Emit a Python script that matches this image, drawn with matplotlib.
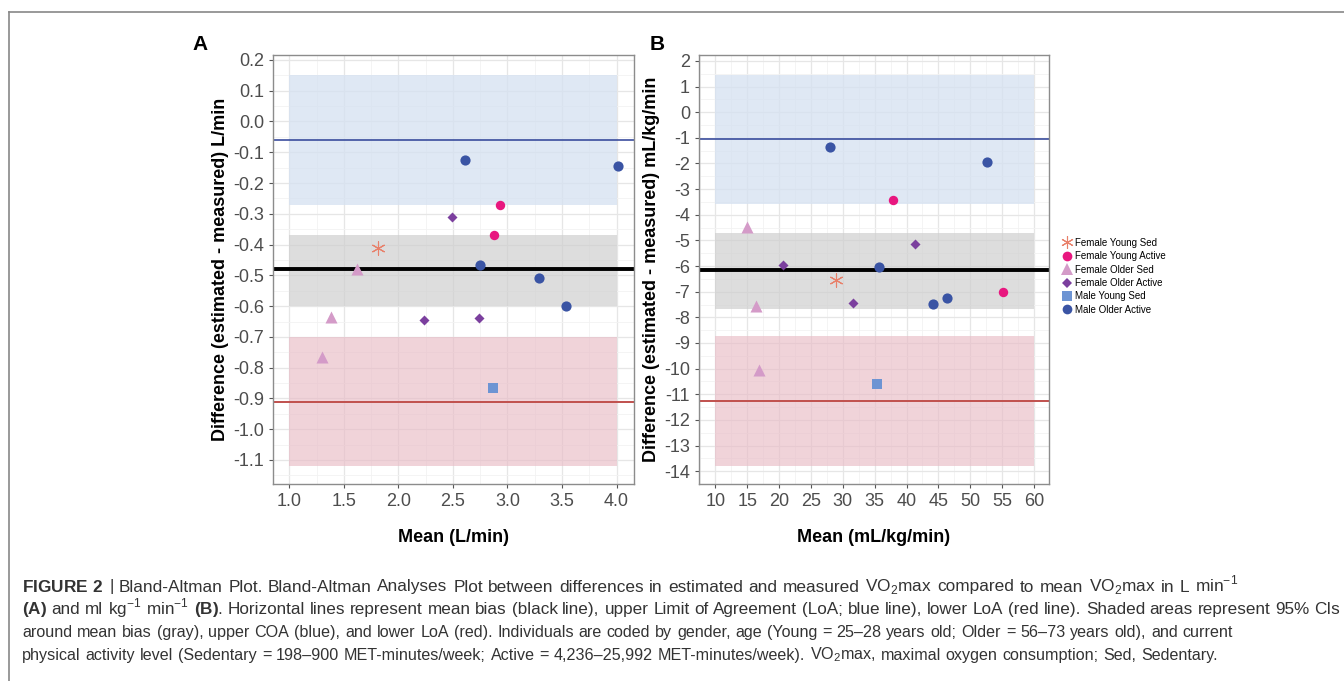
import numpy as np
import matplotlib
matplotlib.use("Agg")
import matplotlib.pyplot as plt
from matplotlib.lines import Line2D
from matplotlib.ticker import MultipleLocator

plt.rcParams['font.family'] = ['Liberation Sans', 'DejaVu Sans']
plt.rcParams['axes.unicode_minus'] = False
plt.rcParams['mathtext.fontset'] = 'custom'
plt.rcParams['mathtext.rm'] = 'Liberation Sans'
plt.rcParams['mathtext.bf'] = 'Liberation Sans:bold'

# groups
groups = ['Female Young Sed', 'Female Young Active', 'Female Older Sed',
          'Female Older Active', 'Male Young Sed', 'Male Older Active']

# panel A (L/min)
a_mean = {
    'Female Young Sed': [1.81],
    'Female Young Active': [2.93, 2.88],
    'Female Older Sed': [1.62, 1.38, 1.30],
    'Female Older Active': [2.49, 2.23, 2.74],
    'Male Young Sed': [2.87],
    'Male Older Active': [2.61, 4.01, 2.75, 3.29, 3.54],
}
a_diff = {
    'Female Young Sed': [-0.41],
    'Female Young Active': [-0.27, -0.37],
    'Female Older Sed': [-0.48, -0.635, -0.765],
    'Female Older Active': [-0.312, -0.646, -0.64],
    'Male Young Sed': [-0.866],
    'Male Older Active': [-0.126, -0.146, -0.466, -0.51, -0.60],
}
a_bias, a_upper, a_lower = -0.48, -0.06, -0.91
a_bias_ci = (-0.60, -0.37)
a_upper_ci = (-0.27, 0.15)
a_lower_ci = (-1.12, -0.70)

# panel B (mL/kg/min)
b_mean = {
    'Female Young Sed': [29.0],
    'Female Young Active': [37.8, 55.2],
    'Female Older Sed': [15.0, 16.3, 16.9],
    'Female Older Active': [20.6, 41.4, 31.6],
    'Male Young Sed': [35.4],
    'Male Older Active': [28.0, 52.6, 35.7, 44.2, 46.3],
}
b_diff = {
    'Female Young Sed': [-6.54],
    'Female Young Active': [-3.43, -7.0],
    'Female Older Sed': [-4.47, -7.54, -10.05],
    'Female Older Active': [-5.97, -5.14, -7.43],
    'Male Young Sed': [-10.6],
    'Male Older Active': [-1.37, -1.94, -6.05, -7.48, -7.24],
}
b_bias, b_upper, b_lower = -6.15, -1.06, -11.25
b_bias_ci = (-7.69, -4.71)
b_upper_ci = (-3.58, 1.45)
b_lower_ci = (-13.79, -8.73)

styles = {
    'Female Young Sed': dict(marker=(6, 2, 0), color='#E8806A', s=90, lw=0.8),
    'Female Young Active': dict(marker='o', color='#E8177F', s=46),
    'Female Older Sed': dict(marker='^', color='#D49BC8', s=75),
    'Female Older Active': dict(marker='D', color='#7B3F9E', s=26),
    'Male Young Sed': dict(marker='s', color='#6D94D3', s=44),
    'Male Older Active': dict(marker='o', color='#3A54A4', s=54),
}

fig = plt.figure(figsize=(13.44, 6.81), dpi=100)


def panel(ax, means, diffs, bias, upper, lower, bias_ci, upper_ci, lower_ci,
          xr, xlim, ylim, xmaj, ymaj, xlabel, ylabel, fmt):
    ax.set_xlim(*xlim)
    ax.set_ylim(*ylim)
    ax.xaxis.set_major_locator(MultipleLocator(xmaj))
    ax.xaxis.set_minor_locator(MultipleLocator(xmaj / 2))
    ax.yaxis.set_major_locator(MultipleLocator(ymaj))
    ax.yaxis.set_minor_locator(MultipleLocator(ymaj / 2))
    ax.grid(which='major', color='#E6E6E6', lw=0.9, zorder=0)
    ax.grid(which='minor', color='#F2F2F2', lw=0.6, zorder=0)
    ax.set_axisbelow(True)
    ax.fill_between(xr, *upper_ci, color='#D5E1F1', alpha=0.75, lw=0, zorder=1)
    ax.fill_between(xr, *bias_ci, color='#CFCFCF', alpha=0.7, lw=0, zorder=1)
    ax.fill_between(xr, *lower_ci, color='#E9BCC6', alpha=0.65, lw=0, zorder=1)
    ax.axhline(upper, color='#2B3F96', lw=1.1, zorder=2)
    ax.axhline(bias, color='black', lw=2.8, zorder=2)
    ax.axhline(lower, color='#C0504D', lw=1.4, zorder=2)
    for g in groups:
        st = styles[g]
        ax.scatter(means[g], diffs[g], marker=st['marker'], s=st['s'],
                   color=st['color'], linewidths=st.get('lw', 0), zorder=3)
    ax.yaxis.set_major_formatter(plt.FuncFormatter(fmt))
    ax.tick_params(which='major', labelsize=13, labelcolor='#4D4D4D',
                   color='#555555', length=3, width=0.8)
    ax.tick_params(which='minor', length=0)
    for sp in ax.spines.values():
        sp.set_color('#8C8C8C')
        sp.set_linewidth(1.0)
    ax.set_xlabel(xlabel, fontsize=13, fontweight='bold', labelpad=14)
    ax.set_ylabel(ylabel, fontsize=13, fontweight='bold', labelpad=3)


axA = fig.add_axes([273 / 1344, 1 - 484 / 681, 361 / 1344, 429 / 681])
panel(axA, a_mean, a_diff, a_bias, a_upper, a_lower, a_bias_ci, a_upper_ci,
      a_lower_ci, [1.0, 4.0], (0.85, 4.16), (-1.178, 0.216), 0.5, 0.1,
      'Mean (L/min)', 'Difference (estimated - measured) L/min',
      lambda v, p: f'{v:.1f}'.replace('-0.0', '0.0'))
axA.xaxis.set_major_formatter(plt.FuncFormatter(lambda v, p: f'{v:.1f}'))

axB = fig.add_axes([699 / 1344, 1 - 484 / 681, 350 / 1344, 429 / 681])
panel(axB, b_mean, b_diff, b_bias, b_upper, b_lower, b_bias_ci, b_upper_ci,
      b_lower_ci, [10, 60], (7.42, 62.36), (-14.5, 2.23), 5, 1,
      'Mean (mL/kg/min)', 'Difference (estimated - measured) mL/kg/min',
      lambda v, p: f'{v:.0f}')

fig.text(200 / 1344, 1 - 45 / 681, 'A', fontsize=15, fontweight='bold',
         ha='center', va='center')
fig.text(657 / 1344, 1 - 45 / 681, 'B', fontsize=15, fontweight='bold',
         ha='center', va='center')

handles = []
for g in groups:
    st = styles[g]
    ms = {'o': 7, '^': 8, 'D': 5, 's': 7}.get(st['marker'], 9)
    handles.append(Line2D([], [], ls='none', marker=st['marker'], ms=ms,
                          color=st['color'], mew=st.get('lw', 0), label=g))
fig.legend(handles=handles, loc='upper left',
           bbox_to_anchor=(1057 / 1344, 1 - 234 / 681), frameon=False,
           fontsize=7, handletextpad=0.3, labelspacing=0.35,
           borderaxespad=0, handlelength=1.2)

# figure frame
fig.add_artist(Line2D([9 / 1344, 1], [1 - 11.5 / 681] * 2, color='#888888', lw=1.2))
fig.add_artist(Line2D([9 / 1344] * 2, [0, 1 - 11.5 / 681], color='#888888', lw=1.2))

caption = [
    r'$\mathbf{FIGURE\ 2}$ | Bland-Altman Plot. Bland-Altman Analyses Plot between differences in estimated and measured VO$_2$max compared to mean VO$_2$max in L min$^{-1}$',
    r'$\mathbf{(A)}$ and ml kg$^{-1}$ min$^{-1}$ $\mathbf{(B)}$. Horizontal lines represent mean bias (black line), upper Limit of Agreement (LoA; blue line), lower LoA (red line). Shaded areas represent 95% CIs',
    'around mean bias (gray), upper COA (blue), and lower LoA (red). Individuals are coded by gender, age (Young = 25\u201328 years old; Older = 56\u201373 years old), and current',
    'physical activity level (Sedentary = 198\u2013900 MET-minutes/week; Active = 4,236\u201325,992 MET-minutes/week). VO$_2$max, maximal oxygen consumption; Sed, Sedentary.',
]
caption_sizes = [12.4, 12.3, 11.6, 11.6]
caption_right = [1238, 1340, 1233, 1218]

# lay out each caption line word by word so it spans the same width as the original
renderer = fig.canvas.get_renderer()
x0 = 22
for i, line in enumerate(caption):
    y = 1 - (591.5 + 22.7 * i) / 681
    words = line.replace(r'\ ', '~').split(' ')
    words = [w.replace('~', r'\ ') for w in words]
    texts, widths = [], []
    for w in words:
        t = fig.text(0, y, w, fontsize=caption_sizes[i], color='#333333',
                     ha='left', va='baseline')
        widths.append(t.get_window_extent(renderer).width)
        texts.append(t)
    gap = (caption_right[i] - x0 - sum(widths)) / (len(words) - 1)
    x = x0
    for t, wd in zip(texts, widths):
        t.set_x(x / 1344)
        x += wd + gap

fig.savefig('out.png', dpi=100)
